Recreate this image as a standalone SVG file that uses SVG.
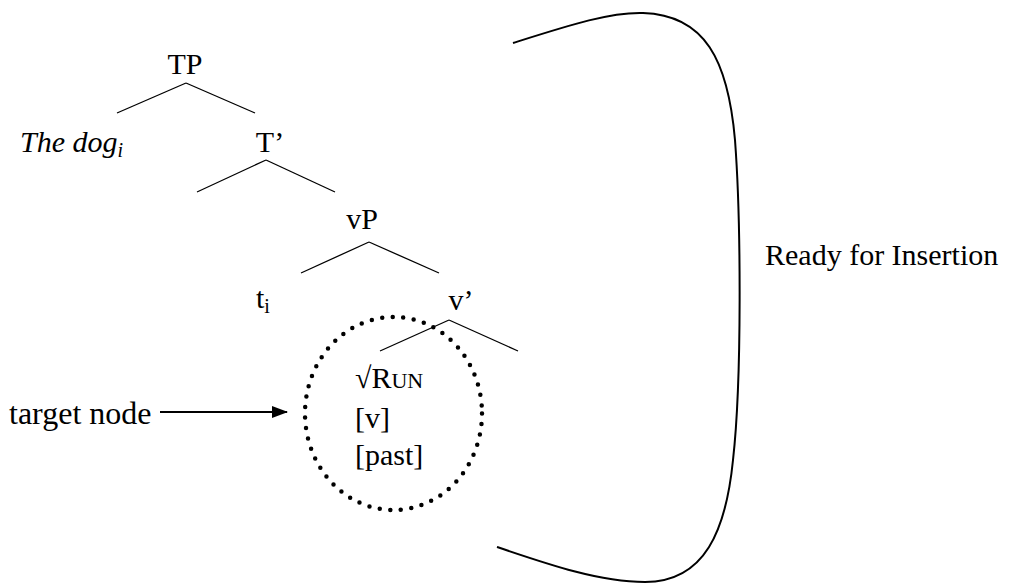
<svg xmlns="http://www.w3.org/2000/svg" width="1015" height="583" viewBox="0 0 1015 583">
<style>
text{font-family:'Liberation Serif','Times New Roman','DejaVu Serif',serif;font-size:30px;fill:#000}
.it{font-style:italic}
.sub{font-size:20px}
.sc{font-size:22px}
.ln{stroke:#000;fill:none}
.br{stroke-width:2}
.tr{stroke-width:1.3}
.head{fill:#000;stroke:none}
</style>
<defs>
<marker id="ah" markerWidth="16" markerHeight="12" refX="15" refY="6" orient="auto" markerUnits="userSpaceOnUse">
<path class="head" d="M0,0 L16,6 L0,12 Z"/>
</marker>
</defs>
<g id="connectors">
<line class="ln tr" x1="186" y1="83" x2="117" y2="113"/>
<line class="ln tr" x1="186" y1="83" x2="255" y2="113"/>
<line class="ln tr" x1="266" y1="160" x2="197" y2="192"/>
<line class="ln tr" x1="266" y1="160" x2="335" y2="192"/>
<line class="ln tr" x1="369" y1="242" x2="301" y2="273"/>
<line class="ln tr" x1="369" y1="242" x2="439" y2="273"/>
<line class="ln tr" x1="449" y1="320" x2="380" y2="351"/>
<line class="ln tr" x1="449" y1="320" x2="518" y2="351"/>
<line class="ln" x1="160" y1="412" x2="287" y2="412" stroke-width="2" marker-end="url(#ah)"/>
</g>
<g id="node-TP"><text x="185" y="74" text-anchor="middle">TP</text></g>
<g id="node-thedog"><text x="20" y="152" class="it">The dog<tspan class="sub" dy="5">i</tspan></text></g>
<g id="node-Tbar"><text x="270" y="152" text-anchor="middle">T’</text></g>
<g id="node-vP"><text x="362" y="229" text-anchor="middle">vP</text></g>
<g id="node-ti"><text x="256" y="308">t<tspan class="sub" dy="5">i</tspan></text></g>
<g id="node-vbar"><text x="461" y="310" text-anchor="middle">v’</text></g>
<g id="node-target">
<ellipse cx="393.5" cy="413.5" rx="88.5" ry="96.5" fill="none" stroke="#000" stroke-width="4.5" stroke-linecap="round" stroke-dasharray="0 10.6"/>
<text x="355" y="388">√R<tspan class="sc">UN</tspan></text>
<text x="355" y="428">[v]</text>
<text x="355" y="465">[past]</text>
</g>
<g id="node-targetlabel"><text x="9" y="424" style="font-size:32px">target node</text></g>
<g id="node-ready"><text x="765" y="265">Ready for Insertion</text></g>
<g id="bracket"><path class="ln br" d="M513,43 C570,25 610,12 643,13 C705,15 728,60 735,140 C741,220 742,380 733,460 C726,530 705,582 645,582 C600,582 550,565 497,547"/></g>
</svg>
